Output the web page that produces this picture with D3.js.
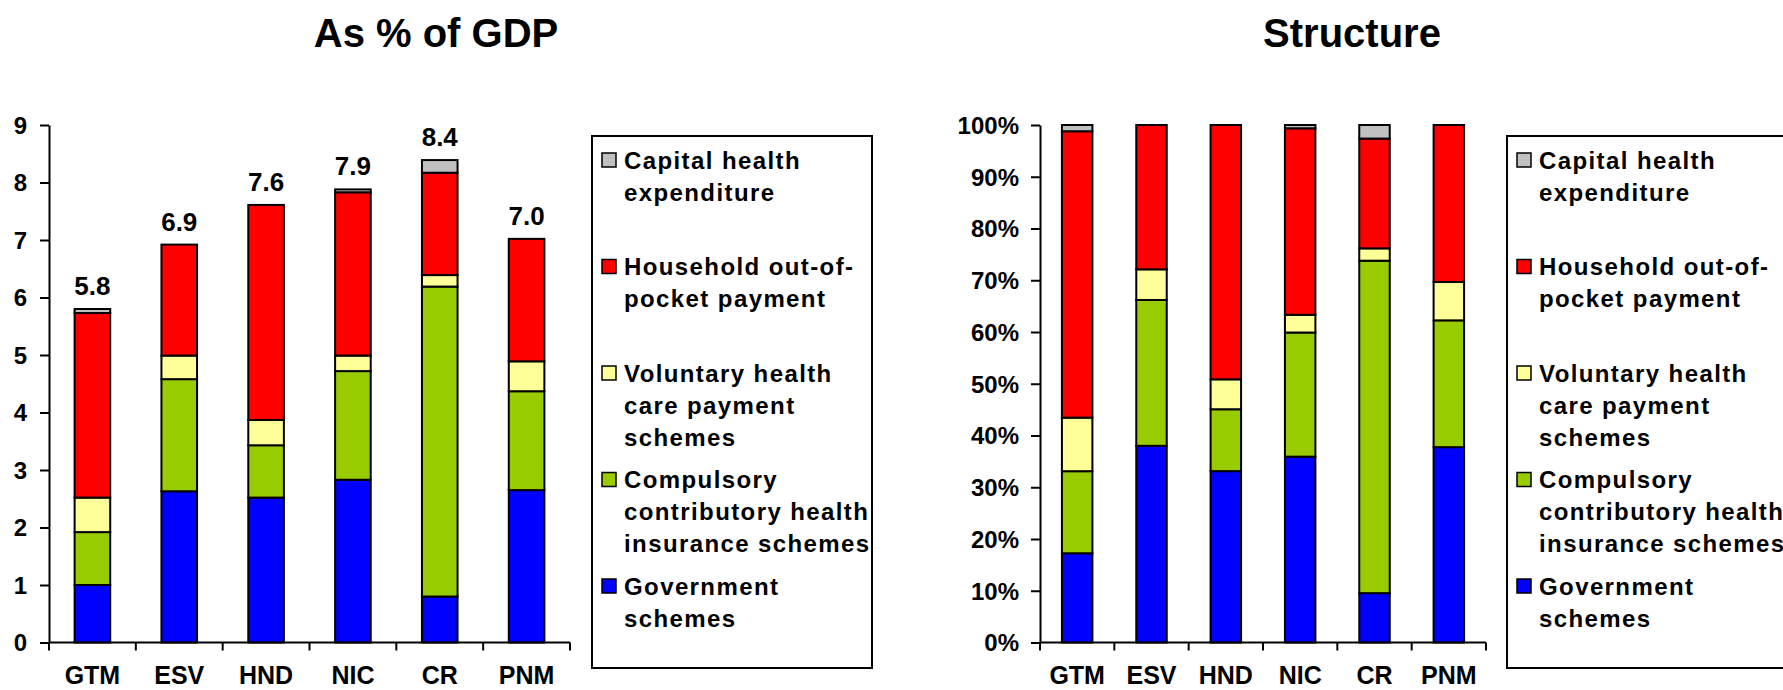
<!DOCTYPE html>
<html>
<head>
<meta charset="utf-8">
<script src="https://cdn.jsdelivr.net/npm/d3@7"></script>
<style>
  body { margin: 0; background: #fff; }
  svg { display: block; font-family: Arial, "Liberation Sans", sans-serif; font-weight: bold; }
</style>
</head>
<body>
<script>
// health expenditure by financing scheme, % of GDP
const countries = ["GTM", "ESV", "HND", "NIC", "CR", "PNM"];
const government = [1.00, 2.63, 2.52, 2.83, 0.80, 2.65];
const compulsory = [0.92, 1.95, 0.91, 1.89, 5.39, 1.72];
const voluntary = [0.60, 0.41, 0.44, 0.27, 0.20, 0.52];
const outOfPocket = [3.21, 1.93, 3.74, 2.84, 1.78, 2.13];
const capital = [0.07, 0.00, 0.00, 0.05, 0.22, 0.00];

const leftTicks = [0, 1, 2, 3, 4, 5, 6, 7, 8, 9];
const rightTicks = [0, 0.1, 0.2, 0.3, 0.4, 0.5, 0.6, 0.7, 0.8, 0.9, 1];

const keys = ["gov", "comp", "vol", "oop", "cap"];
const colors = { gov: "#0000ff", comp: "#99cc00", vol: "#ffff99", oop: "#ff0000", cap: "#c0c0c0" };
const legendItems = [
  { key: "cap", lines: ["Capital health", "expenditure"] },
  { key: "oop", lines: ["Household out-of-", "pocket payment"] },
  { key: "vol", lines: ["Voluntary health", "care payment", "schemes"] },
  { key: "comp", lines: ["Compulsory", "contributory health", "insurance schemes"] },
  { key: "gov", lines: ["Government", "schemes"] },
];

const rows = countries.map((c, i) => ({
  country: c,
  gov: government[i], comp: compulsory[i], vol: voluntary[i],
  oop: outOfPocket[i], cap: capital[i],
}));

const svg = d3.select("body").append("svg").attr("width", 1783).attr("height", 690);
const plotTop = 125, plotBottom = 642.5;

const drawChart = (opts) => {
  const g = svg.append("g");
  const x = d3.scaleBand().domain(countries).range([opts.x0, opts.x1]);
  const y = d3.scaleLinear().domain(opts.domain).range([plotBottom, plotTop]);
  const bw = x.step() * 0.41;

  const stack = d3.stack().keys(keys);
  if (opts.expand) stack.offset(d3.stackOffsetExpand);
  const series = stack(rows);

  // bars
  g.selectAll("g.layer")
    .data(series)
    .enter()
    .append("g")
    .attr("class", "layer")
    .attr("fill", (d) => colors[d.key])
    .selectAll("rect")
    .data((d) => d.filter((s) => s[1] - s[0] > 0))
    .enter()
    .append("rect")
    .attr("x", (d) => x(d.data.country) + (x.step() - bw) / 2)
    .attr("y", (d) => y(d[1]))
    .attr("width", bw)
    .attr("height", (d) => y(d[0]) - y(d[1]))
    .attr("stroke", "#000")
    .attr("stroke-width", 2);

  // y axis
  const ya = g.append("g")
    .attr("transform", `translate(${opts.x0},0)`)
    .call(d3.axisLeft(y).tickValues(opts.ticks).tickFormat(opts.fmt).tickSize(9).tickPadding(opts.pad).tickSizeOuter(0));
  ya.select(".domain").attr("stroke-width", 2);
  ya.selectAll(".tick line").attr("stroke-width", 2);
  ya.selectAll("text").attr("font-size", 24).attr("font-weight", "bold").attr("fill", "#000")
    .attr("font-family", "Arial, 'Liberation Sans', sans-serif").attr("dy", "0.35em");

  // x axis line + ticks between categories
  g.append("line")
    .attr("x1", opts.x0).attr("x2", opts.x1)
    .attr("y1", plotBottom).attr("y2", plotBottom)
    .attr("stroke", "#000").attr("stroke-width", 2);
  g.selectAll("line.xt")
    .data(d3.range(countries.length + 1))
    .enter()
    .append("line")
    .attr("class", "xt")
    .attr("x1", (i) => opts.x0 + i * x.step())
    .attr("x2", (i) => opts.x0 + i * x.step())
    .attr("y1", plotBottom).attr("y2", plotBottom + 8)
    .attr("stroke", "#000").attr("stroke-width", 2);
  g.selectAll("text.xl")
    .data(countries)
    .enter()
    .append("text")
    .attr("class", "xl")
    .attr("x", (d) => x(d) + x.step() / 2)
    .attr("y", 684)
    .attr("text-anchor", "middle")
    .attr("font-size", 25)
    .text((d) => d);

  if (opts.labels) {
    g.selectAll("text.total")
      .data(rows)
      .enter()
      .append("text")
      .attr("class", "total")
      .attr("x", (d) => x(d.country) + x.step() / 2)
      .attr("y", (d) => y(d3.sum(keys, (k) => d[k])) - 14)
      .attr("text-anchor", "middle")
      .attr("font-size", 26)
      .text((d) => d3.format(".1f")(d3.sum(keys, (k) => d[k])));
  }

  // title
  svg.append("text")
    .attr("x", opts.titleX)
    .attr("y", 47)
    .attr("text-anchor", "middle")
    .attr("font-size", 40)
    .text(opts.title);

  // legend
  const lg = svg.append("g").attr("transform", `translate(${opts.legendX},136)`);
  lg.append("rect")
    .attr("width", 280).attr("height", 532)
    .attr("fill", "none").attr("stroke", "#000").attr("stroke-width", 2);
  const item = lg.selectAll("g.item")
    .data(legendItems)
    .enter()
    .append("g")
    .attr("class", "item")
    .attr("transform", (_, i) => `translate(0,${24 + i * 106.5})`);
  item.append("rect")
    .attr("x", 10).attr("y", -7)
    .attr("width", 14).attr("height", 14)
    .attr("fill", (d) => colors[d.key])
    .attr("stroke", "#000").attr("stroke-width", 1.5);
  item.append("text")
    .attr("font-size", 24)
    .attr("letter-spacing", 1.4)
    .selectAll("tspan")
    .data((d) => d.lines)
    .enter()
    .append("tspan")
    .attr("x", 32)
    .attr("y", (_, j) => 8.5 + j * 32)
    .text((d) => d);
};

drawChart({
  x0: 49, x1: 570, domain: [0, 9], ticks: leftTicks, fmt: d3.format("d"), pad: 13,
  labels: true, expand: false, title: "As % of GDP", titleX: 436, legendX: 592,
});

drawChart({
  x0: 1040, x1: 1486, domain: [0, 1], ticks: rightTicks, fmt: d3.format(".0%"), pad: 12,
  labels: false, expand: true, title: "Structure", titleX: 1352, legendX: 1507,
});
</script>
</body>
</html>
